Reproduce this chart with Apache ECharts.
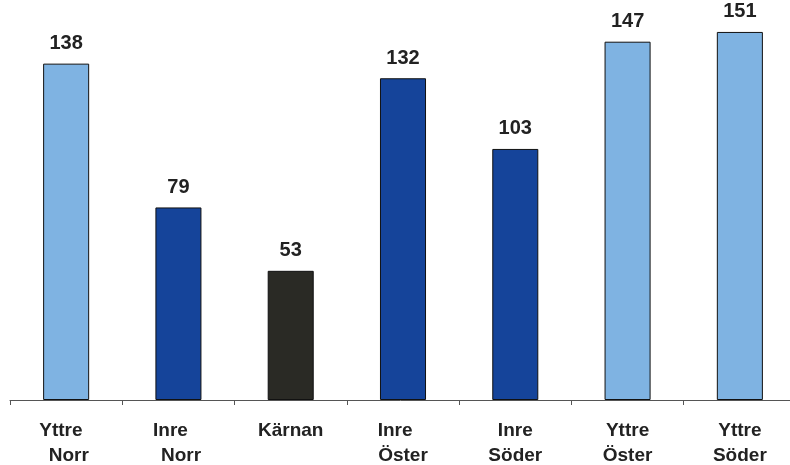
<!DOCTYPE html>
<html><head><meta charset="utf-8">
<script src="https://cdn.jsdelivr.net/npm/echarts@6/dist/echarts.min.js"></script>
<style>html,body{margin:0;padding:0;background:#fff}#c{width:790px;height:465px}</style>
</head><body><div id="c"></div>
<script>
const categories = ["Yttre  \n Norr", "Inre   \n Norr", "Kärnan", "Inre   \nÖster", "Inre\nSöder", "Yttre\nÖster", "Yttre\nSöder"];
const values = [138, 79, 53, 132, 103, 147, 151];
const barColors = ["#7fb3e2", "#15449a", "#2a2a25", "#15449a", "#15449a", "#7fb3e2", "#7fb3e2"];

const chart = echarts.init(document.getElementById('c'));
chart.setOption({
  animation: false,
  grid: {left: 10, right: -6, top: 10, bottom: 65, containLabel: false, outerBoundsMode: 'none'},
  xAxis: {
    type: 'category', data: categories,
    axisLine: {lineStyle: {color: '#555', width: 1}},
    axisTick: {show: true, length: 5, lineStyle: {color: '#555'}},
    axisLabel: {fontFamily: 'Liberation Sans, Arial', fontWeight: 'bold', fontSize: 19, color: '#222', lineHeight: 25, margin: 18, interval: 0}
  },
  yAxis: {type: 'value', min: 0, max: 160, show: false, splitLine: {show: false}},
  series: [{
    type: 'bar', barWidth: '41%',
    data: values.map((v, i) => ({value: v, itemStyle: {color: barColors[i]}})),
    itemStyle: {borderColor: '#111', borderWidth: 1},
    label: {show: true, position: 'top', distance: 10, fontFamily: 'Liberation Sans, Arial', fontWeight: 'bold', fontSize: 20, color: '#222'}
  }]
});
</script></body></html>
